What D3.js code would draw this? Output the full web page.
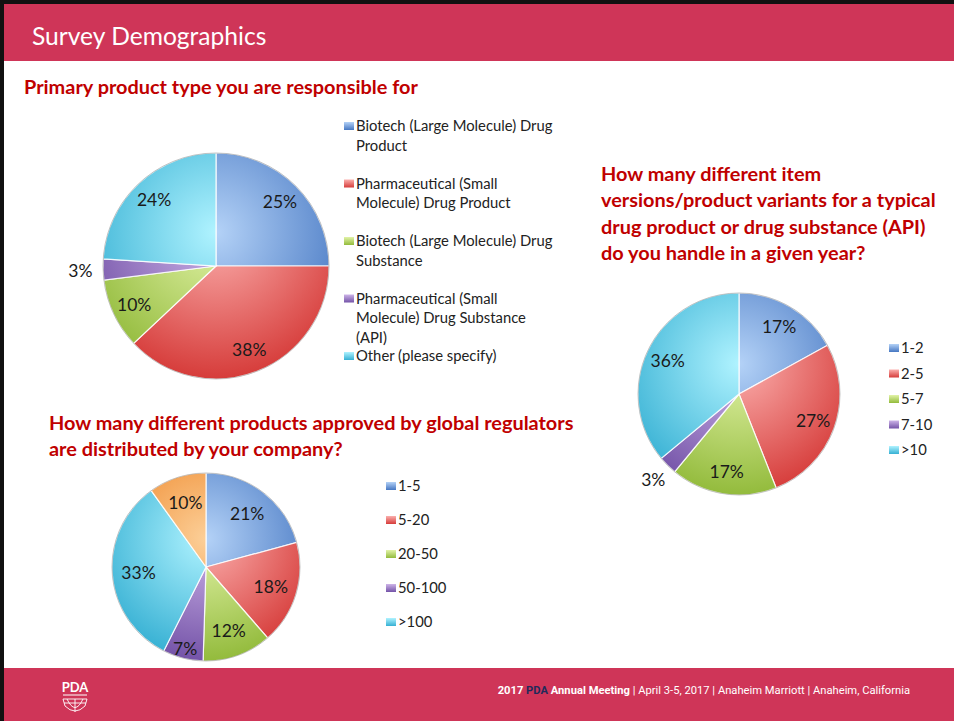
<!DOCTYPE html>
<html>
<head>
<meta charset="utf-8">
<script src="https://cdn.jsdelivr.net/npm/d3@7"></script>
<style>
  body { margin: 0; background: #fff; }
  text { font-family: Lato, "Open Sans", sans-serif; }
</style>
</head>
<body>
<script>
var w = 954;
var h = 721;

// chart 1: primary product type
var productTypes = [
  "Biotech (Large Molecule) Drug\nProduct",
  "Pharmaceutical (Small\nMolecule) Drug Product",
  "Biotech (Large Molecule) Drug\nSubstance",
  "Pharmaceutical (Small\nMolecule) Drug Substance\n(API)",
  "Other (please specify)"
];
var productShares = [25, 38, 10, 3, 24];

// chart 2: item versions / variants per year
var variantBins = ["1-2", "2-5", "5-7", "7-10", ">10"];
var variantShares = [17, 27, 17, 3, 36];

// chart 3: products approved by global regulators (last slice has no legend entry)
var approvedBins = ["1-5", "5-20", "20-50", "50-100", ">100"];
var approvedShares = [21, 18, 12, 7, 33, 10];

var palette = [
  ["#b4d2f7", "#4677c2"],   // blue
  ["#fbb0ae", "#d63c3a"],   // red
  ["#e2f3a8", "#93bb3c"],   // green
  ["#cdb4e8", "#7453a8"],   // purple
  ["#b0f3ff", "#36b0d3"],   // cyan
  ["#fccf98", "#ee8526"]    // orange
];

var svg = d3.select("body")
            .append("svg")
            .attr("width", w)
            .attr("height", h);

var defs = svg.append("defs");

// slide frame
svg.append("rect").attr("width", w).attr("height", h).attr("fill", "#fff");
svg.append("rect").attr("x", 0).attr("y", 0).attr("width", w).attr("height", 61).attr("fill", "#cf3558");
svg.append("rect").attr("x", 0).attr("y", 668).attr("width", w).attr("height", 53).attr("fill", "#cf3558");
svg.append("rect").attr("x", 0).attr("y", 0).attr("width", w).attr("height", 4).attr("fill", "#111");
svg.append("rect").attr("x", 0).attr("y", 0).attr("width", 4).attr("height", h).attr("fill", "#111");

svg.append("text")
   .attr("x", 32).attr("y", 45)
   .text("Survey Demographics")
   .style("font-size", "24.6px")
   .style("fill", "#fff");

// question titles
function title(x, y, lines) {
  var t = svg.append("text")
     .attr("x", x).attr("y", y)
     .style("font-size", "19.9px")
     .style("font-weight", "bold")
     .style("fill", "#c00000");
  t.selectAll("tspan")
   .data(lines)
   .enter()
   .append("tspan")
   .attr("x", x)
   .attr("dy", function(d, i){ return i == 0 ? 0 : 26.4; })
   .text(function(d){ return d; });
}

title(24, 94, ["Primary product type you are responsible for"]);
title(601, 181, ["How many different item",
                 "versions/product variants for a typical",
                 "drug product or drug substance (API)",
                 "do you handle in a given year?"]);
title(49, 430, ["How many different products approved by global regulators",
                "are distributed by your company?"]);

function drawPie(id, cx, cy, r, values, k) {
  // glossy fill: light near the top of the centre, darker at the rim
  palette.forEach(function(c, i){
    var g = defs.append("radialGradient")
        .attr("id", id + "-g" + i)
        .attr("gradientUnits", "userSpaceOnUse")
        .attr("cx", 0).attr("cy", -r * 0.3)
        .attr("r", r * 1.3);
    g.append("stop").attr("offset", "0%").attr("stop-color", c[0]);
    g.append("stop").attr("offset", "100%").attr("stop-color", c[1]);
  });

  var pie = d3.pie().sort(null).value(function(d){ return d; });
  var arc = d3.arc().innerRadius(0).outerRadius(r);
  var arcs = pie(values);

  var g = svg.append("g").attr("transform", "translate(" + cx + "," + cy + ")");

  g.selectAll("path")
   .data(arcs)
   .enter()
   .append("path")
   .attr("d", arc)
   .attr("fill", function(d, i){ return "url(#" + id + "-g" + i + ")"; })
   .attr("stroke", "rgba(255,255,255,0.85)")
   .attr("stroke-width", 1.2);

  g.append("circle")
   .attr("r", r)
   .attr("fill", "none")
   .attr("stroke", "rgba(90,90,90,0.35)")
   .attr("stroke-width", 1);

  g.selectAll("text")
   .data(arcs)
   .enter()
   .append("text")
   .attr("transform", function(d){
      var kk = d.data < 5 ? 1.2 : (d.data < 8 ? 0.9 : k);
      var la = d3.arc().innerRadius(r * kk).outerRadius(r * kk);
      return "translate(" + la.centroid(d) + ")";
   })
   .attr("text-anchor", "middle")
   .attr("dy", "0.36em")
   .text(function(d){ return d.data + "%"; })
   .style("font-size", "17.5px")
   .style("fill", "#1a1a1a");
}

drawPie("p1", 216, 266, 113, productShares, 0.8);
drawPie("p2", 739, 394, 101, variantShares, 0.78);
drawPie("p3", 206, 567, 94, approvedShares, 0.72);

function legend(id, x, y0, y1, labels) {
  var y = d3.scalePoint().domain(labels).range([y0, y1]);
  var g = svg.append("g");
  palette.forEach(function(c, i){
    var lg = defs.append("linearGradient")
        .attr("id", id + "-m" + i)
        .attr("x1", 0).attr("y1", 0).attr("x2", 0).attr("y2", 1);
    lg.append("stop").attr("offset", "0%").attr("stop-color", c[0]);
    lg.append("stop").attr("offset", "100%").attr("stop-color", c[1]);
  });
  var item = g.selectAll("g")
    .data(labels)
    .enter()
    .append("g")
    .attr("transform", function(d){ return "translate(" + x + "," + y(d) + ")"; });
  item.append("rect")
    .attr("x", 0).attr("y", -4)
    .attr("width", 10).attr("height", 8)
    .attr("fill", function(d, i){ return "url(#" + id + "-m" + i + ")"; });
  var t = item.append("text")
    .attr("x", 12)
    .attr("y", 5)
    .style("font-size", "14.8px")
    .style("fill", "#222");
  t.selectAll("tspan")
    .data(function(d){ return d.split("\n"); })
    .enter()
    .append("tspan")
    .attr("x", 12)
    .attr("dy", function(d, i){ return i == 0 ? 0 : 19.5; })
    .text(function(d){ return d; });
}

legend("l1", 344, 126, 356, productTypes);
legend("l2", 889, 348, 450, variantBins);
legend("l3", 386, 486, 622, approvedBins);

// footer
var foot = svg.append("text")
   .attr("x", 910).attr("y", 694)
   .attr("text-anchor", "end")
   .style("font-family", "'Liberation Sans Narrow', 'Roboto', sans-serif")
   .style("font-size", "11.2px")
   .style("fill", "#fff");
foot.append("tspan").style("font-weight", "bold").text("2017 ");
foot.append("tspan").style("font-weight", "bold").style("fill", "#1f2a5a").text("PDA");
foot.append("tspan").style("font-weight", "bold").text(" Annual Meeting");
foot.append("tspan").text("  |  April 3-5, 2017  |  Anaheim Marriott  |  Anaheim, California");

// PDA logo
var logo = svg.append("g").attr("transform", "translate(75,0)");
logo.append("text")
   .attr("x", 0).attr("y", 692)
   .attr("text-anchor", "middle")
   .style("font-size", "13px")
   .style("font-weight", "bold")
   .style("fill", "#fff")
   .text("PDA");
logo.append("line").attr("x1", -12).attr("x2", 12).attr("y1", 695).attr("y2", 695)
   .attr("stroke", "#fff").attr("stroke-width", 1);
logo.append("path")
   .attr("d", "M-12,699 L12,699 L10,706 Q0,716 -10,706 Z M-8,699 Q0,716 8,699 M0,699 L0,712 M-11,703 L11,703")
   .attr("fill", "none")
   .attr("stroke", "#fff")
   .attr("stroke-width", 0.9);
</script>
</body>
</html>
